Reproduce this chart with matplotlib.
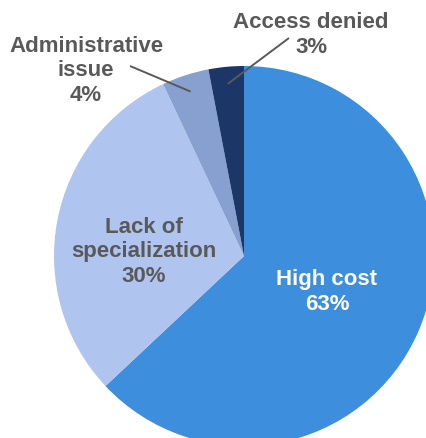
import numpy as np
import matplotlib
matplotlib.use("Agg")
import matplotlib.pyplot as plt

plt.rcParams['font.family'] = ['Liberation Sans', 'DejaVu Sans']

categories = ["High cost", "Lack of\nspecialization", "Administrative\nissue", "Access denied"]
shares = [63, 30, 4, 3]
colors = ["#3D8EDC", "#AFC5EF", "#87A0CF", "#1D3668"]

W, H = 426, 439
fig = plt.figure(figsize=(W / 100, H / 100), dpi=100)
ax = fig.add_axes([0, 0, 1, 1])

cx, cy, R = 244, H - 257, 190
wedges, _ = ax.pie(shares, colors=colors, startangle=90, counterclock=False,
                   center=(cx, cy), radius=R, frame=True,
                   wedgeprops=dict(linewidth=0))
ax.set_xlim(0, W)
ax.set_ylim(0, H)
ax.set_aspect("equal")
ax.axis("off")

txt = dict(fontsize=16, fontweight="bold", ha="center", va="center", linespacing=1.22)
grey = "#595959"

# labels inside the two big slices
ax.text(327, H - 292, f"{categories[0]}\n{shares[0]}%", color="white", **txt)
ax.text(144, H - 252, f"{categories[1]}\n{shares[1]}%", color=grey, **txt)

# outside labels with leader lines to the small slices
outside = {2: ((86, H - 71), (130, H - 67)), 3: ((311, H - 35), (289, H - 39))}
for i, (pos, start) in outside.items():
    w = wedges[i]
    mid = np.deg2rad((w.theta1 + w.theta2) / 2)
    end = (cx + 0.91 * R * np.cos(mid), cy + 0.91 * R * np.sin(mid))
    ax.plot([start[0], end[0]], [start[1], end[1]], color=grey, lw=1.4,
            solid_capstyle="butt")
    ax.text(pos[0], pos[1], f"{categories[i]}\n{shares[i]}%", color=grey, **txt)

fig.savefig("out.png", dpi=100)
